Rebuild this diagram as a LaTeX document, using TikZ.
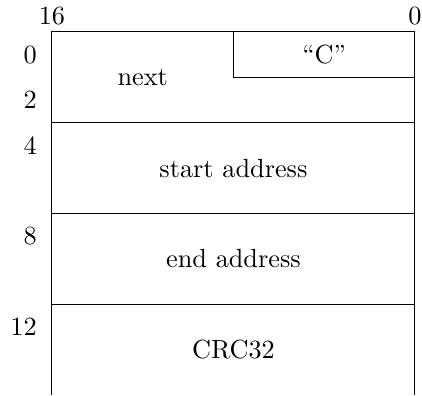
\documentclass[tikz,border=0pt]{standalone}
\usepackage{tikz}
\usetikzlibrary{positioning}
\tikzset{
  fieldtext/.style={font=\fontsize{10.5}{12.5}\selectfont,inner sep=0pt},
  offsetlabel/.style={anchor=east,inner sep=0pt,font=\fontsize{10.5}{12.5}\selectfont},
  bitlabel/.style={inner sep=0pt,font=\fontsize{10.5}{12.5}\selectfont},
  fieldline/.style={draw=black,line width=0.4pt},
}
\begin{document}
\begin{tikzpicture}[x=9.07pt,y=9.07pt]
  \useasboundingbox (-2.29,1.41) rectangle (16.31,-16);
  % outer frame and field borders
  \draw[fieldline] (0,-16) -- (0,0) -- (16,0) -- (16,-16);
  \draw[fieldline] (8,0) -- (8,-2) -- (16,-2);
  \foreach \row in {4,8,12}
    \draw[fieldline] (0,-\row) -- (16,-\row);
  % bit numbers
  \node[bitlabel] (msb) at (0,0.7) {16};
  \node[bitlabel] (lsb) at (16,0.7) {0};
  % byte offsets
  \foreach \off in {0,2,4,8,12}
    \node[offsetlabel] (off\off) at (-0.65,-\off-1) {\off};
  % fields
  \node[fieldtext] (next) at (4,-2) {next};
  \node[fieldtext] (magic) at (12,-1) {``C''};
  \node[fieldtext] (start) at (8,-6) {start address};
  \node[fieldtext] (end) at (8,-10) {end address};
  \node[fieldtext] (crc) at (8,-14) {CRC32};
\end{tikzpicture}
\end{document}
